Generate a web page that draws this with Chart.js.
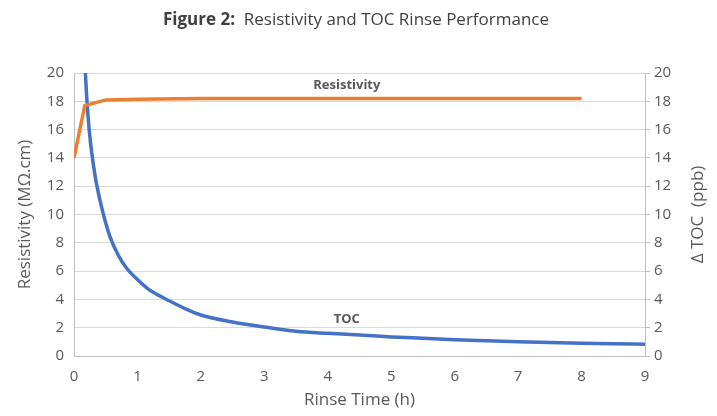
<!DOCTYPE html>
<html>
<head>
<meta charset="utf-8">
<script src="https://cdn.jsdelivr.net/npm/chart.js@4/dist/chart.umd.min.js"></script>
<style>
  html, body { margin: 0; padding: 0; background: #fff; }
  #wrap { width: 717px; height: 416px; }
</style>
</head>
<body>
<div id="wrap"><canvas id="rinse-chart" width="717" height="416"></canvas></div>
<script>
// rinse time (h) and readings, estimated from the figure
const resTime = [0, 0.17, 0.5, 1, 2, 3, 4, 5, 6, 7, 8];
const resValues = [14.0, 17.7, 18.1, 18.15, 18.2, 18.2, 18.2, 18.2, 18.2, 18.2, 18.2];

const tocTime = [0.15, 0.2, 0.25, 0.33, 0.41, 0.5, 0.57, 0.7, 0.83, 1.0, 1.15, 1.25, 1.5, 1.75, 2.0,
  2.5, 3.0, 3.5, 4.0, 4.5, 5.0, 5.5, 6.0, 6.5, 7.0, 7.5, 8.0, 8.5, 9.0];
const tocValues = [22.5, 18.3, 15.5, 12.8, 11.0, 9.4, 8.4, 7.1, 6.2, 5.4, 4.8, 4.5, 3.9, 3.35, 2.9,
  2.4, 2.05, 1.75, 1.6, 1.48, 1.35, 1.25, 1.15, 1.07, 1.0, 0.95, 0.9, 0.86, 0.83];

const xTicks = [0, 1, 2, 3, 4, 5, 6, 7, 8, 9];
const yTicks = [0, 2, 4, 6, 8, 10, 12, 14, 16, 18, 20];

const seriesLabels = ['Resistivity', 'TOC'];

const tickColor = '#595959';
const gridColor = '#d9d9d9';
const axisColor = '#bfbfbf';
const fontFamily = '"Open Sans", "Noto Sans", sans-serif';

function toPoints(xs, ys) {
  return xs.map((x, i) => ({ x: x, y: ys[i] }));
}

// title with a bold "Figure 2:" prefix
const figureTitle = {
  id: 'figureTitle',
  afterDraw(chart) {
    const ctx = chart.ctx;
    const bold = 'Figure 2:';
    const rest = '  Resistivity and TOC Rinse Performance';
    ctx.save();
    ctx.textBaseline = 'middle';
    ctx.font = 'bold 17px ' + fontFamily;
    const wBold = ctx.measureText(bold).width;
    ctx.font = '17px ' + fontFamily;
    const wRest = ctx.measureText(rest).width;
    let x = 356 - (wBold + wRest) / 2;
    const y = 20;
    ctx.fillStyle = '#404040';
    ctx.font = 'bold 17px ' + fontFamily;
    ctx.fillText(bold, x, y);
    ctx.font = '17px ' + fontFamily;
    ctx.fillText(rest, x + wBold, y);
    ctx.restore();
  }
};

// series names next to the lines, and the right axis title (reads bottom to top)
const extraText = {
  id: 'extraText',
  afterDatasetsDraw(chart) {
    const ctx = chart.ctx;
    const xs = chart.scales.x;
    const yl = chart.scales.yLeft;
    const area = chart.chartArea;
    ctx.save();
    ctx.font = 'bold 13px ' + fontFamily;
    ctx.fillStyle = '#595959';
    ctx.textAlign = 'center';
    ctx.textBaseline = 'middle';
    ctx.fillText(seriesLabels[0], xs.getPixelForValue(4.3), yl.getPixelForValue(19.1));
    ctx.fillText(seriesLabels[1], xs.getPixelForValue(4.3), yl.getPixelForValue(2.6));

    ctx.translate(698, (area.top + area.bottom) / 2);
    ctx.rotate(-Math.PI / 2);
    ctx.font = '17px ' + fontFamily;
    ctx.fillText('Δ TOC  (ppb)', 0, 0);
    ctx.restore();
  }
};

const ctx = document.getElementById('rinse-chart').getContext('2d');

new Chart(ctx, {
  type: 'scatter',
  data: {
    datasets: [{
      label: seriesLabels[0],
      data: toPoints(resTime, resValues),
      showLine: true,
      borderColor: '#ed7d31',
      backgroundColor: '#ed7d31',
      borderWidth: 3.5,
      pointRadius: 0,
      tension: 0,
      yAxisID: 'yLeft'
    }, {
      label: seriesLabels[1],
      data: toPoints(tocTime, tocValues),
      showLine: true,
      borderColor: '#4472c4',
      backgroundColor: '#4472c4',
      borderWidth: 3.5,
      pointRadius: 0,
      cubicInterpolationMode: 'monotone',
      yAxisID: 'yRight'
    }]
  },
  options: {
    responsive: false,
    animation: false,
    layout: { padding: { top: 73, left: 0, right: 0, bottom: 0 } },
    plugins: {
      legend: { display: false },
      tooltip: { enabled: false }
    },
    scales: {
      x: {
        type: 'linear',
        min: 0,
        max: 9,
        afterBuildTicks(axis) { axis.ticks = xTicks.map(v => ({ value: v })); },
        afterFit(axis) { axis.height = 60; },
        grid: { display: false },
        border: { display: true, color: axisColor, width: 1 },
        ticks: { color: tickColor, font: { family: fontFamily, size: 15 }, padding: 4 },
        title: {
          display: true,
          text: 'Rinse Time (h)',
          color: tickColor,
          font: { family: fontFamily, size: 17 },
          padding: { top: 0, bottom: 6 }
        }
      },
      yLeft: {
        type: 'linear',
        position: 'left',
        min: 0,
        max: 20,
        afterBuildTicks(axis) { axis.ticks = yTicks.map(v => ({ value: v })); },
        afterFit(axis) { axis.width = 74; },
        grid: { color: gridColor, lineWidth: 1, drawTicks: false },
        border: { display: true, color: axisColor, width: 1 },
        ticks: { color: tickColor, font: { family: fontFamily, size: 15 }, padding: 10 },
        title: {
          display: true,
          text: 'Resistivity (MΩ.cm)',
          color: tickColor,
          font: { family: fontFamily, size: 17 },
          padding: { top: 15, bottom: 0 }
        }
      },
      yRight: {
        type: 'linear',
        position: 'right',
        min: 0,
        max: 20,
        afterBuildTicks(axis) { axis.ticks = yTicks.map(v => ({ value: v })); },
        afterFit(axis) { axis.width = 72; },
        grid: { drawOnChartArea: false, color: axisColor, tickLength: 5 },
        border: { display: true, color: axisColor, width: 1 },
        ticks: { color: tickColor, font: { family: fontFamily, size: 15 }, padding: 4 }
      }
    }
  },
  plugins: [figureTitle, extraText]
});
</script>
</body>
</html>
